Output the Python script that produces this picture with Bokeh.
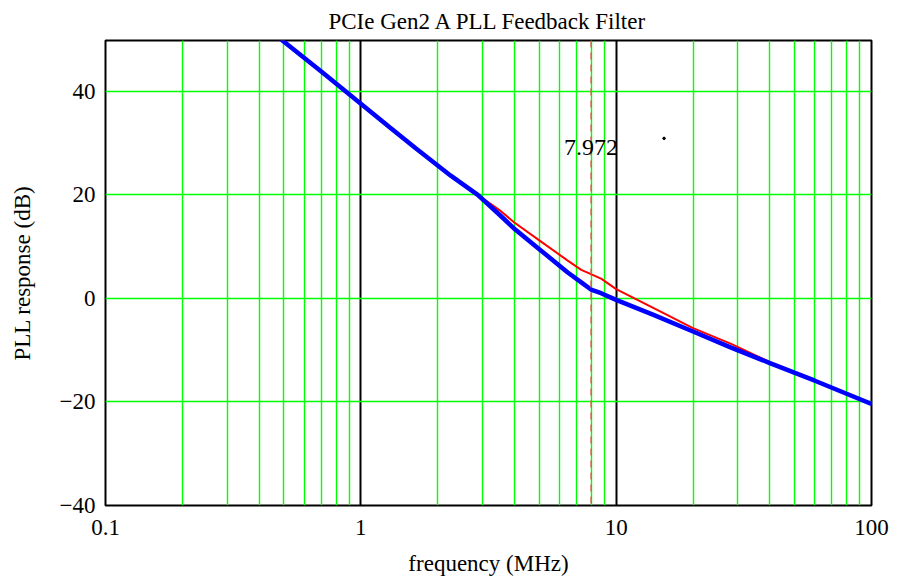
from bokeh.plotting import figure
from bokeh.models import FixedTicker, Range1d, Span, Label
from bokeh.embed import file_html
from bokeh.resources import INLINE

# ---- data ----
blue_f = [0.45, 0.493, 0.7, 1.0, 1.3, 1.64, 2.25, 2.87, 3.5, 3.98, 5.0, 6.46, 7.3, 7.97, 8.73, 10.0, 14.0, 20.0, 28.2, 40.0, 60.0, 100.0]
blue_db = [51.4, 49.8, 43.8, 37.6, 33.0, 29.0, 23.7, 20.0, 16.1, 13.5, 9.5, 5.0, 3.1, 1.7, 1.0, -0.3, -3.2, -6.4, -9.5, -12.5, -15.9, -20.4]

red_f = [0.45, 0.493, 0.7, 1.0, 1.3, 1.64, 2.25, 2.87, 3.5, 3.98, 5.0, 6.46, 7.3, 8.73, 10.0, 15.0, 19.9, 28.2, 40.0, 60.0, 100.0]
red_db = [51.4, 49.8, 43.8, 37.6, 33.0, 29.0, 23.7, 20.0, 17.0, 14.7, 11.2, 7.3, 5.5, 3.8, 1.8, -2.6, -5.7, -8.8, -12.3, -15.9, -20.4]

marker_f = 7.972
marker_label = "7.972"
marker_label_db = 29.1

dot_f = [15.4]
dot_db = [30.9]

x_ticks = [0.1, 1, 10, 100]
x_minor = [k * d for d in (0.1, 1, 10) for k in range(2, 10)]
x_labels = {0.1: "0.1", 1: "1", 10: "10", 100: "100"}
y_ticks = [-40, -20, 0, 20, 40]
y_labels = {-40: "\u221240", -20: "\u221220", 0: "0", 20: "20", 40: "40"}

title = "PCIe Gen2 A PLL Feedback Filter"
x_title = "frequency (MHz)"
y_title = "PLL response (dB)"

FONT = "Liberation Serif"

p = figure(
    x_axis_type="log",
    x_range=Range1d(0.1, 100),
    y_range=Range1d(-40, 49.8),
    frame_width=766, frame_height=465,
    min_border_left=105, min_border_top=40, min_border_right=20, min_border_bottom=62,
    output_backend="svg", toolbar_location=None,
    title=title,
)
p.title.text_font = FONT
p.title.text_font_size = "23px"
p.title.text_font_style = "normal"
p.title.text_color = "black"
p.title.align = "center"
p.title.offset = 0
p.title.standoff = 13

p.outline_line_color = "black"
p.outline_line_width = 2
p.outline_line_alpha = 1

p.xaxis.ticker = FixedTicker(ticks=x_ticks, minor_ticks=x_minor)
p.yaxis.ticker = FixedTicker(ticks=y_ticks)
p.xaxis.major_label_overrides = x_labels
p.yaxis.major_label_overrides = y_labels

for ax in (p.xaxis, p.yaxis):
    ax.axis_line_color = None
    ax.major_tick_line_color = None
    ax.minor_tick_line_color = None
    ax.major_tick_out = 0
    ax.minor_tick_out = 0
    ax.major_label_text_font = FONT
    ax.major_label_text_font_size = "23px"
    ax.major_label_text_color = "black"
    ax.axis_label_text_font = FONT
    ax.axis_label_text_font_size = "23px"
    ax.axis_label_text_font_style = "normal"
    ax.axis_label_text_color = "black"

p.xaxis.axis_label = x_title
p.yaxis.axis_label = y_title
p.xaxis.major_label_standoff = 14
p.yaxis.major_label_standoff = 10
p.xaxis.axis_label_standoff = 13
p.yaxis.axis_label_standoff = 22

p.xgrid.ticker = FixedTicker(ticks=x_ticks, minor_ticks=x_minor)
p.xgrid.grid_line_color = "black"
p.xgrid.grid_line_width = 2
p.xgrid.minor_grid_line_color = "#00ff00"
p.xgrid.minor_grid_line_width = 1.4
p.ygrid.ticker = FixedTicker(ticks=y_ticks)
p.ygrid.grid_line_color = "#00ff00"
p.ygrid.grid_line_width = 1.5

p.line(red_f, red_db, line_color="#ff0000", line_width=2)
p.line(blue_f, blue_db, line_color="#0000ff", line_width=4.5)

span = Span(location=marker_f, dimension="height", line_color="#e85050",
            line_dash="7 5", line_width=1.3)
p.add_layout(span)
p.add_layout(Label(x=marker_f, y=marker_label_db, text=marker_label,
                   text_align="center", text_baseline="middle",
                   text_font=FONT, text_font_size="24px", text_color="black"))

p.scatter(dot_f, dot_db, size=2.5, color="black")

open("out.html", "w").write(file_html(p, INLINE))
